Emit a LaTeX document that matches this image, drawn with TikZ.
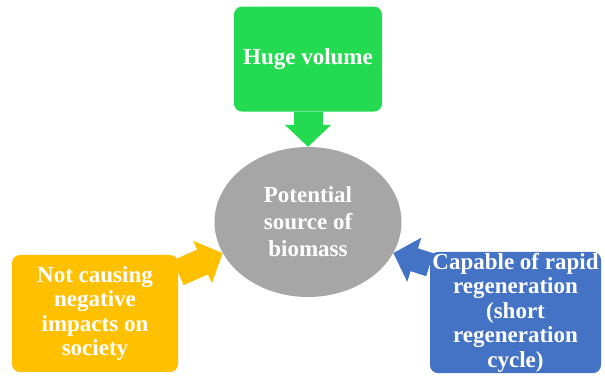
\documentclass[tikz,border=0pt]{standalone}
\usepackage{fontspec}
\setmainfont{Liberation Serif}[BoldFont={Liberation Serif Bold}]
\usepackage{tikz}
\usetikzlibrary{arrows.meta,positioning,calc,shapes}
\definecolor{boxgreen}{RGB}{36,218,80}
\definecolor{boxyellow}{RGB}{255,192,0}
\definecolor{boxblue}{RGB}{68,114,196}
\definecolor{ellgray}{RGB}{166,166,166}
\tikzstyle{box}=[rounded corners=8pt, inner sep=1pt, align=center, text=white, font=\rmfamily\bfseries\fontsize{23}{24.5}\selectfont]
\tikzstyle{bigarrow}=[line width=27pt, -{Triangle[width=45pt,length=22pt]}]

\begin{document}
\begin{tikzpicture}[x=1pt, y=1pt]

            \useasboundingbox (0,0) rectangle (605,379);

            % Centre ellipse
            \node[ellipse, fill=ellgray, minimum width=187pt, minimum height=150pt, align=center, text=white,
                  font=\rmfamily\bfseries\fontsize{23}{27}\selectfont] (ell) at (308,157)
                {Potential\\source of\\biomass};

            % Boxes
            \node[box, fill=boxgreen, minimum width=148pt, minimum height=105pt, above=35pt of ell] (vol)
                {Huge volume};
            \node[box, fill=boxyellow, minimum width=166pt, minimum height=117pt] (soc) at (95,65.5)
                {Not causing\\negative\\impacts on\\society};
            \node[box, fill=boxblue, minimum width=171pt, minimum height=119pt] (regen) at (515.5,66.5)
                {Capable of rapid\\regeneration\\(short\\regeneration\\cycle)};

            % Arrows into the ellipse
            \draw[bigarrow, boxgreen, line width=29pt] (vol.south) -- (ell.north);
            \draw[bigarrow, boxyellow] ($(soc.north east)+(0,-18)$) -- (ell.200);
            \draw[bigarrow, boxblue, line width=24pt] ($(regen.north west)+(0,-13)$) -- (ell.340);

        \end{tikzpicture}
\end{document}
